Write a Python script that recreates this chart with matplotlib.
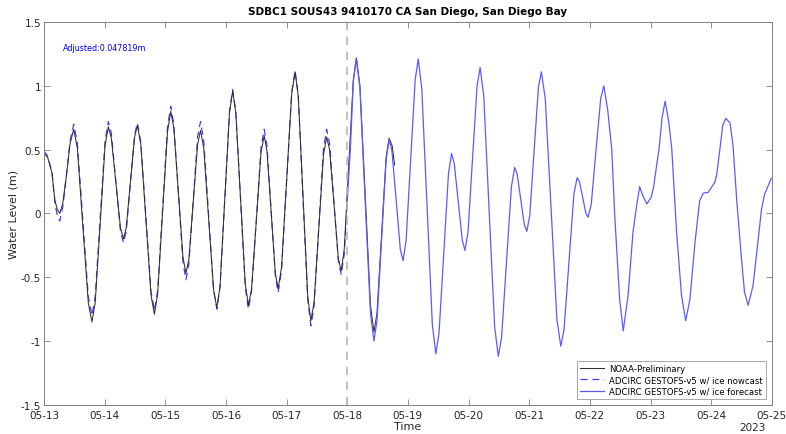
import matplotlib
matplotlib.use('Agg')
import matplotlib.pyplot as plt
import matplotlib.dates as mdates
import pandas as pd

# days since 2023-05-13 00:00 and water level (m)
obs_days = [0.00, 0.06, 0.13, 0.18, 0.22, 0.26, 0.31, 0.37, 0.43, 0.49,
            0.55, 0.64, 0.73, 0.79, 0.844, 0.925, 1.006, 1.06, 1.11, 1.185, 1.26, 1.31,
            1.356, 1.425, 1.494, 1.54, 1.596, 1.68, 1.764, 1.82, 1.874, 1.955, 2.036, 2.09,
            2.14, 2.215, 2.29, 2.34, 2.388, 2.46, 2.532, 2.58, 2.634, 2.715, 2.796, 2.85,
            2.902, 2.98, 3.058, 3.11, 3.162, 3.24, 3.318, 3.37, 3.422, 3.50, 3.578, 3.63,
            3.676, 3.745, 3.814, 3.86, 3.916, 4.00, 4.084, 4.14, 4.192, 4.27, 4.348, 4.40,
            4.452, 4.53, 4.608, 4.66, 4.708, 4.78, 4.852, 4.90, 4.95, 5.025, 5.10, 5.15,
            5.208, 5.295, 5.382, 5.44, 5.49, 5.565, 5.64, 5.69, 5.74, 5.78]
obs_level = [0.47, 0.44, 0.32, 0.10, 0.03, 0.00, 0.08, 0.30, 0.55, 0.66,
             0.51, -0.10, -0.70, -0.85, -0.70, -0.09, 0.53, 0.68, 0.59, 0.24, -0.11, -0.20,
             -0.11, 0.25, 0.60, 0.69, 0.54, -0.05, -0.64, -0.79, -0.63, 0.01, 0.64, 0.80,
             0.67, 0.17, -0.34, -0.47, -0.36, 0.09, 0.54, 0.65, 0.51, -0.05, -0.60, -0.74,
             -0.57, 0.11, 0.79, 0.96, 0.79, 0.12, -0.55, -0.72, -0.59, -0.06, 0.48, 0.61,
             0.49, 0.01, -0.47, -0.59, -0.42, 0.26, 0.94, 1.11, 0.92, 0.14, -0.65, -0.84,
             -0.70, -0.12, 0.46, 0.60, 0.50, 0.08, -0.35, -0.45, -0.28, 0.39, 1.05, 1.22,
             1.00, 0.15, -0.72, -0.93, -0.78, -0.17, 0.44, 0.59, 0.53, 0.38]

now_days = [0.00, 0.06, 0.13, 0.18, 0.22, 0.26, 0.31, 0.37, 0.43, 0.49,
            0.55, 0.64, 0.73, 0.79, 0.844, 0.925, 1.006, 1.06, 1.11, 1.185, 1.26, 1.31,
            1.356, 1.425, 1.494, 1.54, 1.596, 1.68, 1.764, 1.82, 1.874, 1.955, 2.036, 2.09,
            2.14, 2.215, 2.29, 2.34, 2.388, 2.46, 2.532, 2.58, 2.634, 2.715, 2.796, 2.85,
            2.902, 2.98, 3.058, 3.11, 3.162, 3.24, 3.318, 3.37, 3.422, 3.50, 3.578, 3.63,
            3.676, 3.745, 3.814, 3.86, 3.916, 4.00, 4.084, 4.14, 4.192, 4.27, 4.348, 4.40,
            4.452, 4.53, 4.608, 4.66, 4.708, 4.78, 4.852, 4.90, 4.95, 5.00]
now_level = [0.49, 0.45, 0.33, 0.08, -0.02, -0.06, 0.05, 0.30, 0.57, 0.70,
             0.55, -0.05, -0.65, -0.80, -0.65, -0.04, 0.57, 0.72, 0.63, 0.25, -0.14, -0.23,
             -0.14, 0.24, 0.62, 0.71, 0.56, -0.03, -0.61, -0.76, -0.60, 0.04, 0.68, 0.84,
             0.70, 0.16, -0.38, -0.52, -0.40, 0.10, 0.60, 0.72, 0.57, -0.02, -0.60, -0.75,
             -0.58, 0.11, 0.80, 0.97, 0.80, 0.11, -0.58, -0.75, -0.61, -0.05, 0.52, 0.66,
             0.53, 0.02, -0.49, -0.62, -0.45, 0.25, 0.95, 1.12, 0.92, 0.12, -0.68, -0.88,
             -0.73, -0.11, 0.51, 0.66, 0.55, 0.09, -0.37, -0.48, -0.32, 0.10]

fc_days = [5.00, 5.05, 5.10, 5.15, 5.208, 5.295, 5.382, 5.44, 5.49, 5.565, 5.64, 5.69,
           5.736, 5.805, 5.874, 5.92, 5.97, 6.045, 6.12, 6.17, 6.228, 6.315, 6.402, 6.46,
           6.512, 6.59, 6.668, 6.72, 6.764, 6.83, 6.896, 6.94, 6.99, 7.065, 7.14, 7.19,
           7.25, 7.34, 7.43, 7.49, 7.544, 7.625, 7.706, 7.76, 7.80, 7.86, 7.92, 7.96,
           8.008, 8.08, 8.152, 8.20, 8.264, 8.36, 8.456, 8.52, 8.574, 8.655, 8.736, 8.79,
           8.826, 8.88, 8.934, 8.97, 9.022, 9.10, 9.178, 9.23, 9.294, 9.36, 9.41, 9.49,
           9.55, 9.63, 9.71, 9.77, 9.82, 9.88, 9.94, 10.01, 10.05, 10.10, 10.14, 10.19,
           10.24, 10.30, 10.35, 10.43, 10.51, 10.58, 10.65, 10.73, 10.81, 10.87, 10.95,
           11.06, 11.09, 11.15, 11.19, 11.24, 11.31, 11.36, 11.42, 11.50, 11.55, 11.61,
           11.69, 11.77, 11.83, 11.88, 11.99]
fc_level = [0.10, 0.50, 1.04, 1.21, 0.99, 0.10, -0.78, -1.00, -0.84, -0.21, 0.42, 0.58,
            0.49, 0.11, -0.28, -0.37, -0.21, 0.42, 1.05, 1.21, 0.98, 0.06, -0.87, -1.10,
            -0.94, -0.32, 0.31, 0.47, 0.39, 0.09, -0.21, -0.29, -0.15, 0.43, 1.00, 1.145,
            0.92, 0.01, -0.89, -1.12, -0.97, -0.38, 0.21, 0.36, 0.31, 0.11, -0.09, -0.14,
            -0.02, 0.49, 0.99, 1.11, 0.90, 0.04, -0.83, -1.04, -0.91, -0.38, 0.15, 0.28,
            0.25, 0.13, 0.00, -0.03, 0.07, 0.49, 0.90, 1.00, 0.81, 0.505, -0.02, -0.67,
            -0.92, -0.64, -0.15, 0.06, 0.21, 0.13, 0.075, 0.127, 0.205, 0.375, 0.505, 0.75,
            0.88, 0.72, 0.505, -0.15, -0.64, -0.84, -0.67, -0.24, 0.10, 0.16, 0.165,
            0.245, 0.30, 0.53, 0.69, 0.745, 0.71, 0.53, 0.11, -0.36, -0.62, -0.72,
            -0.565, -0.225, 0.035, 0.15, 0.275]

yticks = [-1.5, -1, -0.5, 0, 0.5, 1, 1.5]
ytick_labels = ['-1.5', '-1', '-0.5', '0', '0.5', '1', '1.5']

start = pd.Timestamp('2023-05-13')
def to_time(days):
    return start + pd.to_timedelta(days, unit='D')

fig = plt.figure(figsize=(7.86, 4.35), dpi=100)
ax = fig.add_axes([0.056, 0.067, 0.926, 0.88])

l2, = ax.plot(to_time(now_days), now_level, color='#3a3aff', lw=0.85, ls=(0, (6, 4)),
              label='ADCIRC GESTOFS-v5 w/ ice nowcast')
l1, = ax.plot(to_time(obs_days), obs_level, color='#303030', lw=0.75,
              label='NOAA-Preliminary')
l3, = ax.plot(to_time(fc_days), fc_level, color='#5a5aff', lw=0.9,
              label='ADCIRC GESTOFS-v5 w/ ice forecast')
ax.axvline(to_time(5.0), color='#b8b8b8', lw=1.2, ls=(0, (5, 4)))

ax.set_xlim(to_time(0), to_time(12))
ax.set_ylim(-1.5, 1.5)
ax.set_yticks(yticks)
ax.set_yticklabels(ytick_labels)
ax.xaxis.set_major_locator(mdates.DayLocator())
ax.xaxis.set_major_formatter(mdates.DateFormatter('%m-%d'))

ax.tick_params(direction='in', top=True, right=True, length=4, width=0.6,
               color='#808080', labelsize=7.5, labelcolor='#262626')
ax.tick_params(axis='x', pad=3.5)
ax.tick_params(axis='y', pad=2)
for s in ax.spines.values():
    s.set_color('#808080')
    s.set_linewidth(0.7)

ax.set_title('SDBC1 SOUS43 9410170 CA San Diego, San Diego Bay', fontsize=7.5,
             fontweight='bold', pad=6)
ax.set_xlabel('Time', fontsize=8, color='#262626')
ax.xaxis.set_label_coords(0.5, -0.042)
ax.set_ylabel('Water Level (m)', fontsize=8, color='#262626', labelpad=2)
ax.text(0.026, 0.927, 'Adjusted:0.047819m', transform=ax.transAxes, fontsize=5.8,
        color='blue')
ax.text(0.973, -0.057, '2023', transform=ax.transAxes, fontsize=7.5, color='#262626',
        ha='center', va='center')

leg = ax.legend(handles=[l1, l2, l3], loc='lower right', fontsize=6.1, frameon=True,
                fancybox=False, edgecolor='#808080', handlelength=2.8,
                handletextpad=0.6, borderpad=0.35, labelspacing=0.3,
                borderaxespad=0.7)
leg.get_frame().set_linewidth(0.6)

fig.savefig('out.png', dpi=100)
